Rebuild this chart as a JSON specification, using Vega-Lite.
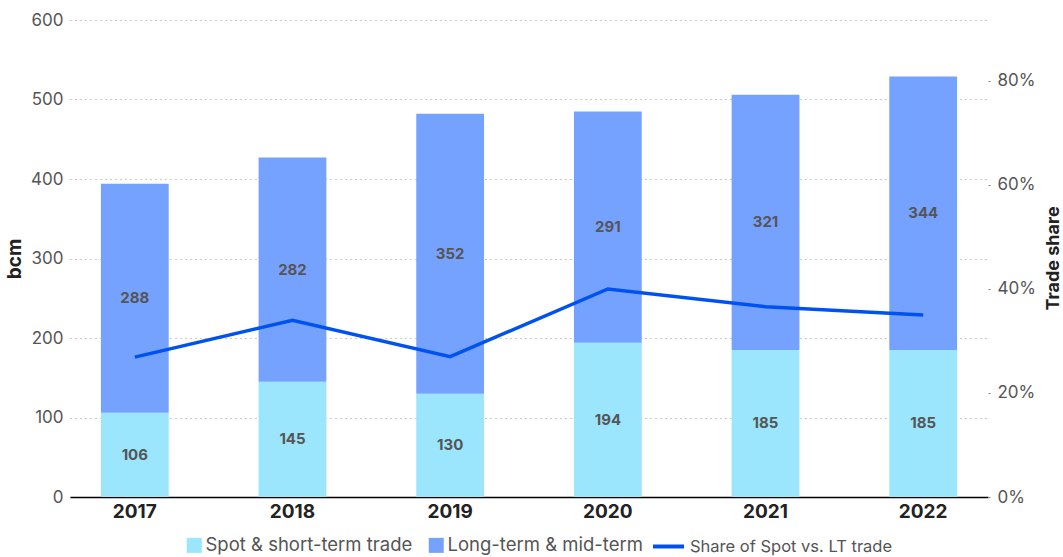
{
  "$schema": "https://vega.github.io/schema/vega-lite/v6.json",
  "autosize": {"type": "none"},
  "width": 918,
  "height": 477,
  "padding": {"left": 70, "top": 20, "right": 75, "bottom": 60},
  "background": "white",
  "config": {
    "font": "Inter",
    "view": {"stroke": null},
    "legend": {"title": null}
  },
  "datasets": {
    "bars": [
      {"year": "2017", "series": "Spot & short-term trade", "ord": 1, "bcm": 106},
      {"year": "2017", "series": "Long-term & mid-term", "ord": 2, "bcm": 288},
      {"year": "2018", "series": "Spot & short-term trade", "ord": 1, "bcm": 145},
      {"year": "2018", "series": "Long-term & mid-term", "ord": 2, "bcm": 282},
      {"year": "2019", "series": "Spot & short-term trade", "ord": 1, "bcm": 130},
      {"year": "2019", "series": "Long-term & mid-term", "ord": 2, "bcm": 352},
      {"year": "2020", "series": "Spot & short-term trade", "ord": 1, "bcm": 194},
      {"year": "2020", "series": "Long-term & mid-term", "ord": 2, "bcm": 291},
      {"year": "2021", "series": "Spot & short-term trade", "ord": 1, "bcm": 185},
      {"year": "2021", "series": "Long-term & mid-term", "ord": 2, "bcm": 321},
      {"year": "2022", "series": "Spot & short-term trade", "ord": 1, "bcm": 185},
      {"year": "2022", "series": "Long-term & mid-term", "ord": 2, "bcm": 344}
    ],
    "share": [
      {"year": "2017", "series": "Share of Spot vs. LT trade", "share": 0.269},
      {"year": "2018", "series": "Share of Spot vs. LT trade", "share": 0.340},
      {"year": "2019", "series": "Share of Spot vs. LT trade", "share": 0.270},
      {"year": "2020", "series": "Share of Spot vs. LT trade", "share": 0.400},
      {"year": "2021", "series": "Share of Spot vs. LT trade", "share": 0.366},
      {"year": "2022", "series": "Share of Spot vs. LT trade", "share": 0.350}
    ]
  },
  "encoding": {
    "x": {
      "field": "year", "type": "nominal",
      "scale": {"paddingInner": 0.57, "paddingOuter": 0.196},
      "axis": {"title": null, "labelAngle": 0, "labelFont": "Inter", "labelFontSize": 19, "labelFontWeight": "bold", "labelColor": "#222222", "ticks": false, "domainColor": "#000000", "domainWidth": 1.5, "labelPadding": 5, "grid": false}
    }
  },
  "layer": [
    {
      "layer": [
        {
          "data": {"name": "bars"},
          "mark": {"type": "bar"},
          "encoding": {
            "y": {
              "field": "bcm", "type": "quantitative", "stack": "zero",
              "scale": {"domain": [0, 600], "nice": false},
              "axis": {"title": "bcm", "titleFont": "Inter", "titleFontSize": 19, "titleFontWeight": "bold", "titleColor": "#222222", "titlePadding": 6, "values": [0, 100, 200, 300, 400, 500, 600], "labelFont": "Inter", "labelFontSize": 17, "labelColor": "#555555", "domain": false, "ticks": false, "labelPadding": 7, "grid": true, "gridColor": "#999999", "gridDash": [1, 4], "gridWidth": 1}
            },
            "color": {
              "field": "series", "type": "nominal",
              "scale": {"domain": ["Spot & short-term trade", "Long-term & mid-term"], "range": ["#9BE6FC", "#76A2FF"]},
              "legend": {
                "orient": "none",
                "direction": "horizontal",
                "legendX": 115,
                "legendY": 516,
                "labelFont": "Inter",
                "labelFontSize": 18.5,
                "labelColor": "#555555",
                "labelLimit": 400,
                "labelOffset": 2,
                "columnPadding": 14,
                "symbolType": "square",
                "symbolSize": 225
              }
            },
            "order": {"field": "ord", "type": "quantitative"}
          }
        },
        {
          "data": {"name": "bars"},
          "transform": [
            {"stack": "bcm", "groupby": ["year"], "sort": [{"field": "ord"}], "as": ["b0", "b1"]},
            {"calculate": "(datum.b0 + datum.b1) / 2", "as": "mid"}
          ],
          "mark": {"type": "text", "font": "Inter", "fontSize": 15, "fontWeight": "bold", "color": "#555555", "baseline": "middle"},
          "encoding": {
            "y": {"field": "mid", "type": "quantitative"},
            "text": {"field": "bcm", "type": "quantitative"}
          }
        }
      ]
    },
    {
      "data": {"name": "share"},
      "mark": {"type": "line", "strokeWidth": 3.5},
      "encoding": {
        "y": {
          "field": "share", "type": "quantitative",
          "scale": {"domain": [0, 0.9173], "nice": false},
          "axis": {"orient": "right", "title": "Trade share", "titleAngle": 270, "titleX": 65, "titleY": 238, "titleAlign": "center", "titleBaseline": "middle", "titleFont": "Inter", "titleFontSize": 18, "titleFontWeight": "bold", "titleColor": "#222222", "format": ".0%", "values": [0, 0.2, 0.4, 0.6, 0.8], "labelFont": "Inter", "labelFontSize": 17, "labelColor": "#555555", "domain": false, "ticks": true, "tickSize": 2, "tickColor": "#888888", "labelPadding": 7, "grid": false}
        },
        "stroke": {
          "field": "series", "type": "nominal",
          "scale": {"domain": ["Share of Spot vs. LT trade"], "range": ["#0052F0"]},
          "legend": {
            "orient": "none",
            "direction": "horizontal",
            "legendX": 581,
            "legendY": 509,
            "labelFont": "Inter",
            "labelFontSize": 16.5,
            "labelColor": "#555555",
            "labelLimit": 400,
            "labelOffset": 4,
            "symbolType": "stroke",
            "symbolSize": 961,
            "symbolStrokeWidth": 4
          }
        }
      }
    }
  ],
  "resolve": {"scale": {"y": "independent"}}
}
